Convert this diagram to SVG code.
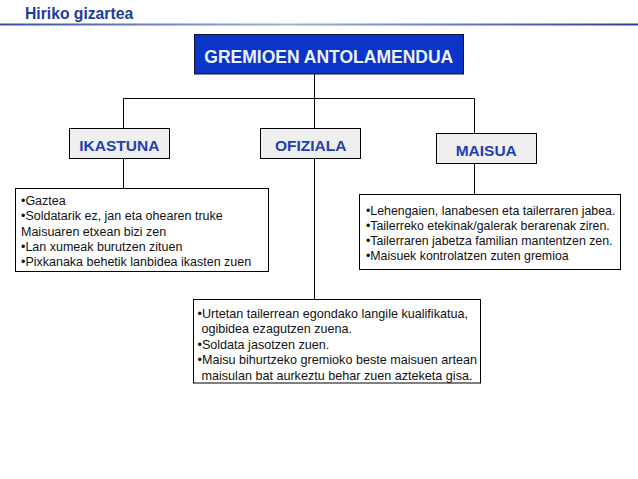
<svg xmlns="http://www.w3.org/2000/svg" width="638" height="479" viewBox="0 0 638 479">
<defs>
<linearGradient id="hdr" x1="0" y1="0" x2="1" y2="0">
<stop offset="0" stop-color="#2f52a0"/>
<stop offset="0.45" stop-color="#9fb1da"/>
<stop offset="1" stop-color="#1f4693"/>
</linearGradient>
<style>
.title{font-family:"Liberation Sans",Arial,sans-serif;font-weight:bold;font-size:15.7px;fill:#1b3c9e}
.topbox{fill:#0a35c6;stroke:#111133;stroke-width:1}
.toptxt{font-family:"Liberation Sans",Arial,sans-serif;font-weight:bold;font-size:17.5px;fill:#eef2fa;text-anchor:middle}
.lbl{fill:#efefef;stroke:#000;stroke-width:1}
.lbltxt{font-family:"Liberation Sans",Arial,sans-serif;font-weight:bold;font-size:15.5px;fill:#1e3fae;text-anchor:middle}
.box{fill:#fff;stroke:#000;stroke-width:1}
.txt{font-family:"Liberation Sans",Arial,sans-serif;font-size:12.5px;fill:#111}
.txt2{font-size:12.35px}
.txt3{font-size:12.6px}
.conn{stroke:#000;stroke-width:1;fill:none}
</style>
</defs>
<rect x="0" y="0" width="638" height="479" fill="#fff"/>
<g id="header">
<text class="title" x="25" y="19">Hiriko gizartea</text>
<rect x="0" y="23.5" width="638" height="2" fill="url(#hdr)"/>
</g>
<g id="connectors">
<path class="conn" d="M314.5 74 V128.5"/>
<path class="conn" d="M123.5 98.5 H474.5"/>
<path class="conn" d="M123.5 98.5 V128.5"/>
<path class="conn" d="M474.5 98.5 V133.5"/>
<path class="conn" d="M123.5 158.5 V188.5"/>
<path class="conn" d="M314.5 158.5 V299.5"/>
<path class="conn" d="M474.5 163.5 V194.5"/>
</g>
<g id="gremioen">
<rect class="topbox" x="194.5" y="34.5" width="269" height="39.5"/>
<text class="toptxt" x="328.8" y="62.5">GREMIOEN ANTOLAMENDUA</text>
</g>
<g id="ikastuna">
<rect class="lbl" x="69.5" y="128.5" width="100" height="30"/>
<text class="lbltxt" x="119.3" y="150.5">IKASTUNA</text>
</g>
<g id="ofiziala">
<rect class="lbl" x="260.5" y="128.5" width="100" height="30"/>
<text class="lbltxt" x="310.7" y="150.5">OFIZIALA</text>
</g>
<g id="maisua">
<rect class="lbl" x="436.5" y="133.5" width="100" height="30"/>
<text class="lbltxt" x="486.2" y="155.5">MAISUA</text>
</g>
<g id="ikastuna-desc">
<rect class="box" x="15.5" y="188.5" width="253" height="83"/>
<text class="txt" x="21" y="205">•Gaztea</text>
<text class="txt" x="21" y="220.3">•Soldatarik ez, jan eta ohearen truke</text>
<text class="txt" x="21" y="235.6">Maisuaren etxean bizi zen</text>
<text class="txt" x="21" y="250.9">•Lan xumeak burutzen zituen</text>
<text class="txt" x="21" y="266.2">•Pixkanaka behetik lanbidea ikasten zuen</text>
</g>
<g id="maisua-desc">
<rect class="box" x="359.5" y="194.5" width="261" height="75"/>
<text class="txt txt2" x="366" y="214.5">•Lehengaien, lanabesen eta tailerraren jabea.</text>
<text class="txt txt2" x="366" y="229.8">•Tailerreko etekinak/galerak berarenak ziren.</text>
<text class="txt txt2" x="366" y="245.1">•Tailerraren jabetza familian mantentzen zen.</text>
<text class="txt txt2" x="366" y="260.4">•Maisuek kontrolatzen zuten gremioa</text>
</g>
<g id="ofiziala-desc">
<rect class="box" x="193.5" y="299.5" width="287" height="83.5"/>
<text class="txt txt3" x="197.5" y="317.5">•Urtetan tailerrean egondako langile kualifikatua,</text>
<text class="txt txt3" x="201.5" y="333">ogibidea ezagutzen zuena.</text>
<text class="txt txt3" x="197.5" y="348.5">•Soldata jasotzen zuen.</text>
<text class="txt txt3" x="197.5" y="364">•Maisu bihurtzeko gremioko beste maisuen artean</text>
<text class="txt txt3" x="201.5" y="379.5">maisulan bat aurkeztu behar zuen azteketa gisa.</text>
</g>
</svg>
